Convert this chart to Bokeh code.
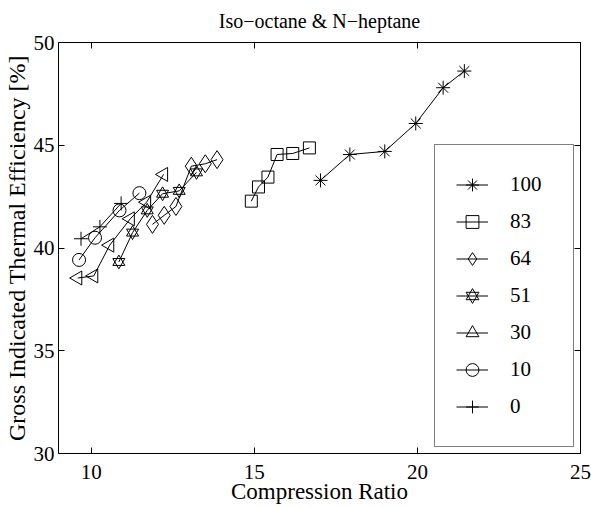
import math
from bokeh.plotting import figure
from bokeh.models import Range1d, LinearAxis, FixedTicker, Legend, LegendItem, CustomLabelingPolicy
from bokeh.embed import file_html
from bokeh.resources import INLINE

# ---- data ----
x100 = [17.03, 17.93, 19.00, 19.95, 20.79, 21.44]
y100 = [43.29, 44.55, 44.70, 46.06, 47.80, 48.61]

x83 = [14.91, 15.13, 15.42, 15.70, 16.18, 16.69]
y83 = [42.28, 42.97, 43.45, 44.55, 44.60, 44.87]

x64 = [11.88, 12.24, 12.60, 13.07, 13.50, 13.86]
y64 = [41.15, 41.59, 42.02, 43.98, 44.10, 44.30]

x51 = [10.85, 11.27, 11.72, 12.19, 12.70, 13.23]
y51 = [39.32, 40.75, 41.83, 42.64, 42.78, 43.68]

x30 = [9.59, 10.08, 10.57, 11.20, 11.70, 12.22]
y30 = [38.54, 38.64, 40.14, 41.42, 42.23, 43.58]

x10 = [9.63, 10.12, 10.87, 11.48]
y10 = [39.42, 40.50, 41.83, 42.67]

x0 = [9.69, 10.27, 10.92]
y0 = [40.45, 41.03, 42.17]

series_labels = ["100", "83", "64", "51", "30", "10", "0"]
x_ticks = [10, 15, 20, 25]
y_ticks = [30, 35, 40, 45, 50]
title_text = "Iso\u2212octane & N\u2212heptane"
x_label = "Compression Ratio"
y_label = "Gross Indicated Thermal Efficiency [%]"

FONT = "Liberation Serif"

p = figure(width=591, height=507, x_range=Range1d(9, 25), y_range=Range1d(30, 50),
           output_backend="svg", toolbar_location=None,
           min_border_left=57, min_border_right=11, min_border_top=42, min_border_bottom=54)
p.background_fill_color = "white"
p.border_fill_color = "white"
p.outline_line_color = "black"
p.outline_line_width = 1
p.grid.visible = False

p.title.text = title_text
p.title.text_font = FONT
p.title.text_font_style = "normal"
p.title.text_font_size = "20px"
p.title.align = "center"
p.title.text_color = "black"
p.title.standoff = 18
p.title.vertical_align = "top"

def style_axis(ax, labels=True):
    ax.axis_line_color = "black"
    ax.major_tick_in = 6
    ax.major_tick_out = 0
    ax.minor_tick_line_color = None
    ax.major_tick_line_color = "black"
    ax.major_label_text_font = FONT
    ax.major_label_text_font_size = "21px" if labels else "0px"
    ax.major_label_text_color = "black"
    ax.axis_label_text_font = FONT
    ax.axis_label_text_font_style = "normal"
    ax.axis_label_text_font_size = "23px"
    ax.axis_label_text_color = "black"

p.xaxis.ticker = FixedTicker(ticks=x_ticks)
p.yaxis.ticker = FixedTicker(ticks=y_ticks)
style_axis(p.xaxis[0])
style_axis(p.yaxis[0])
p.yaxis.axis_label_text_font_size = "24px"
p.xaxis.axis_label = x_label
p.yaxis.axis_label = y_label
p.xaxis.major_label_standoff = 11
p.xaxis.axis_label_standoff = -3
p.yaxis.major_label_standoff = 4
p.yaxis.axis_label_standoff = 1

top = LinearAxis(ticker=FixedTicker(ticks=x_ticks), major_label_standoff=0,
                 major_label_policy=CustomLabelingPolicy(code="return new Set()"))
right = LinearAxis(ticker=FixedTicker(ticks=y_ticks), major_label_standoff=0,
                   major_label_policy=CustomLabelingPolicy(code="return new Set()"))
style_axis(top, labels=False)
style_axis(right, labels=False)
p.add_layout(top, "above")
p.add_layout(right, "right")

lw = 1
items = []

def add_series(xs, ys, markers, label):
    ln = p.line(xs, ys, line_color="black", line_width=lw)
    rs = [ln]
    for m in markers:
        kind, size, ang = m
        r = p.scatter(xs, ys, marker=kind, size=size, angle=ang,
                      line_color="black", fill_color=None, line_width=lw)
        rs.append(r)
    items.append(LegendItem(label=label, renderers=rs))

add_series(x100, y100, [("asterisk", 14, 0)], series_labels[0])
add_series(x83, y83, [("square", 12, 0)], series_labels[1])
add_series(x64, y64, [("diamond", 18, 0)], series_labels[2])
add_series(x51, y51, [("triangle", 12, 0), ("inverted_triangle", 12, 0)], series_labels[3])
add_series(x30, y30, [("triangle", 14, math.pi / 2)], series_labels[4])
add_series(x10, y10, [("circle", 13, 0)], series_labels[5])
add_series(x0, y0, [("cross", 14, 0)], series_labels[6])

legend = Legend(items=items, location=(376, 6))
legend.border_line_color = "black"
legend.border_line_width = 1
legend.background_fill_color = "white"
legend.background_fill_alpha = 1.0
legend.padding = 21
legend.margin = 0
legend.spacing = 0
legend.glyph_width = 32
legend.glyph_height = 37
legend.label_height = 37
legend.label_width = 42
legend.label_standoff = 22
legend.label_text_font = FONT
legend.label_text_font_size = "21px"
legend.label_text_color = "black"
legend.label_text_baseline = "middle"
p.add_layout(legend)

open("out.html", "w").write(file_html(p, INLINE))
